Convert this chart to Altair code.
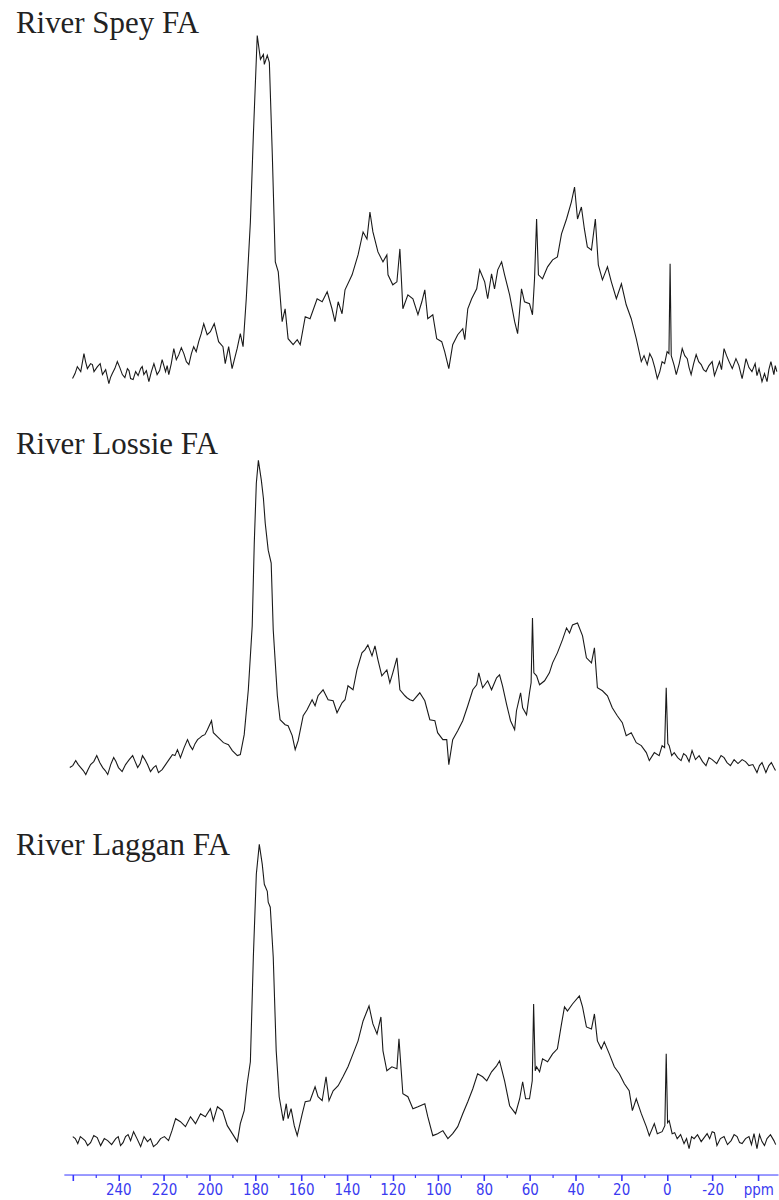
import altair as alt
import pandas as pd

# ---- data (ppm, relative intensity) ----
spey_ppm = [260.0, 257.9, 256.4, 255.0, 253.5, 252.1, 250.6, 249.1, 246.9, 245.5, 244.1, 242.6, 240.4, 238.2,
            236.0, 234.6, 232.4, 230.2, 228.8, 226.6, 224.4, 223.0, 220.8, 219.3, 217.9, 215.7, 213.5, 211.3,
            209.1, 207.0, 204.8, 202.6, 201.1, 199.7, 198.0, 196.1, 194.2, 193.2, 191.7, 190.2, 188.0, 186.6,
            185.4, 184.0, 182.2, 180.9, 179.2, 177.8, 176.5, 176.1, 174.8, 173.9, 172.6, 171.3, 170.0, 168.3,
            167.0, 165.7, 163.5, 161.7, 160.4, 158.2, 156.1, 153.0, 150.8, 148.6, 146.5, 145.2, 143.8, 142.1,
            140.8, 137.7, 135.1, 132.9, 131.2, 129.9, 128.6, 126.4, 124.2, 122.5, 122.0, 119.9, 118.1, 116.8,
            115.5, 113.3, 111.1, 108.9, 107.2, 105.9, 104.6, 102.4, 100.7, 98.5, 97.2, 95.4, 93.7, 91.5,
            89.3, 88.4, 87.1, 85.4, 83.2, 81.9, 79.7, 78.4, 76.7, 75.4, 74.0, 72.3, 71.0, 68.8,
            66.6, 65.3, 63.6, 62.3, 60.1, 58.8, 57.9, 57.0, 56.2, 54.4, 52.2, 50.0, 47.9, 46.1,
            43.9, 41.8, 40.4, 39.1, 37.4, 36.1, 34.8, 33.0, 31.3, 30.0, 28.2, 26.0, 24.3, 22.1,
            19.9, 17.8, 15.6, 13.4, 11.2, 8.6, 6.4, 4.2, 2.1, -0.1, -0.9, -1.4, -1.9, -2.3,
            -4.1, -6.7, -8.9, -10.6, -12.8, -15.0, -17.1, -19.8, -21.9, -25.0, -27.2, -30.2, -32.9, -34.6,
            -37.2, -40.3, -41.6, -43.8, -45.5, -46.8, -48.1]
spey_val = [-5, 7, 2, 20, 5, 10, 2, 7, -1, 4, -10, 0, 12, -1,
            5, -5, 2, 5, -1, -8, 10, -1, 14, 2, -1, 25, 19, 20,
            9, 27, 32, 50, 39, 42, 50, 32, 27, 10, 27, 5, 25, 40,
            27, 75, 152, 239, 339, 315, 320, 310, 319, 312, 219, 112, 102, 52,
            65, 35, 29, 34, 29, 57, 55, 75, 72, 82, 65, 52, 72, 60,
            84, 99, 119, 142, 135, 162, 142, 122, 112, 119, 99, 89, 92, 125,
            65, 79, 75, 59, 72, 84, 55, 59, 35, 32, 22, 5, 29, 39,
            45, 34, 65, 75, 85, 104, 92, 75, 100, 85, 104, 112, 99, 79,
            52, 40, 85, 72, 70, 59, 95, 155, 99, 95, 107, 114, 117, 140,
            155, 172, 187, 155, 167, 145, 127, 124, 155, 109, 94, 107, 92, 75,
            90, 69, 55, 35, 12, 9, 15, -5, 12, 22, 20, 110, 18, 15,
            -1, 25, 15, -1, 19, 9, 2, 12, 5, 25, 12, 15, -5, 15,
            2, 5, -8, -8, 12, -1, 2]
# finer noise detail of the Spey baseline
spey_detail_ppm = [258.9, 254.3, 251.3, 247.9, 243.4, 241.5, 239.3, 237.1, 235.3, 233.5, 231.3, 229.5, 227.7,
                   225.5, 221.9, 218.6, 216.8, 214.6, 212.4, 210.2, 208.0, 205.9, 203.7,
                   10.0, 7.5, 5.3, 3.1, 1.0,
                   -3.2, -5.4, -7.8, -9.7, -11.7, -13.9, -16.0, -18.4, -20.8, -23.0, -23.9, -26.1, -28.6,
                   -31.5, -33.7, -35.9, -38.6, -39.4, -42.7, -44.6, -47.4]
spey_detail_val = [0, 12, 9, 10, -4, 5, 6, -4, 3, -6, -2, 7, 3,
                   2, 3, 8, 10, 14, 26, 12, 20, 22, 40,
                   18, 20, 6, 2, 10,
                   8, 10, 18, 6, 10, 12, 4, 8, -2, 12, 4, 18, 5,
                   8, 4, 6, 10, -2, 0, 4, 8]

lossie_ppm = [261.2, 258.6, 256.4, 254.2, 252.1, 249.4, 246.8, 244.6, 242.0, 239.9, 236.8, 233.7, 231.5, 229.4,
              227.2, 224.6, 222.4, 219.3, 216.3, 214.1, 212.8, 209.7, 207.5, 205.3, 203.2, 201.0, 199.2, 198.4,
              196.2, 194.0, 191.8, 190.1, 187.9, 186.6, 184.9, 183.1, 181.4, 180.5, 179.6, 178.7, 177.4, 176.5,
              175.7, 174.4, 173.1, 172.2, 170.4, 169.2, 167.0, 165.7, 163.9, 162.6, 161.3, 159.1, 157.4, 155.2,
              153.9, 152.6, 150.4, 148.2, 146.0, 144.3, 142.1, 140.8, 139.5, 137.3, 135.6, 133.4, 132.1, 130.8,
              129.0, 127.7, 126.4, 124.7, 122.5, 121.2, 119.9, 118.1, 116.8, 114.6, 113.7, 112.4, 111.1, 108.1,
              105.9, 103.7, 101.5, 100.3, 98.0, 96.3, 95.4, 93.7, 91.5, 89.3, 87.1, 84.9, 83.2, 82.3,
              80.6, 78.4, 76.7, 74.5, 73.2, 71.9, 70.1, 68.4, 66.6, 65.8, 64.0, 63.1, 61.4, 60.1,
              59.4, 58.8, 58.2, 57.0, 55.7, 53.5, 51.4, 50.0, 47.9, 45.7, 43.9, 42.6, 41.3, 39.1,
              36.9, 35.2, 33.0, 31.7, 30.4, 28.2, 26.0, 23.9, 21.7, 19.5, 17.8, 15.6, 13.4, 11.2,
              9.0, 7.7, 5.5, 3.4, 2.1, 1.0, 0.3, -0.4, -1.0, -3.2, -6.2, -8.4, -11.0, -14.1,
              -17.1, -19.8, -23.7, -26.3, -29.4, -32.9, -35.9, -39.4, -41.6, -43.3, -44.6, -46.8]
lossie_val = [0, 7, 0, -7, 3, 12, 0, -7, 10, 0, 3, 12, 0, 12,
              3, 0, -5, 3, 13, 18, 10, 28, 18, 28, 32, 38, 47, 35,
              30, 25, 23, 17, 12, 13, 33, 78, 142, 225, 285, 308, 288, 270,
              245, 218, 205, 138, 72, 48, 43, 42, 32, 18, 27, 52, 58, 68,
              62, 72, 78, 68, 67, 55, 65, 68, 82, 78, 98, 115, 118, 123,
              112, 122, 108, 92, 98, 85, 95, 110, 78, 72, 70, 68, 67, 75,
              67, 48, 47, 35, 28, 28, 3, 28, 37, 47, 62, 78, 83, 95,
              80, 87, 78, 90, 93, 82, 63, 47, 38, 57, 75, 60, 53, 75,
              85, 150, 95, 92, 83, 87, 95, 105, 115, 128, 140, 135, 143, 145,
              132, 110, 105, 120, 80, 77, 72, 60, 52, 45, 32, 35, 25, 22,
              15, 7, 15, 12, 22, 20, 80, 24, 22, 15, 7, 12, 17, 12,
              2, 8, 12, 5, 8, 8, 2, -5, 5, -5, 2, 0]
lossie_detail_ppm = [259.9, 257.5, 255.3, 253.2, 250.7, 248.1, 245.7, 243.3, 241.0, 238.3, 235.2, 232.6, 230.4,
                     228.3, 225.9, 223.5, 220.8, 217.8, 215.2, 211.2, 208.6, 206.4, 204.2, 202.1,
                     -2.1, -4.7, -7.3, -9.7, -12.5, -15.6, -18.4, -21.8, -25.0, -27.8, -31.1, -34.4, -37.6,
                     -40.5, -45.7, -47.5]
lossie_detail_val = [2, 3, -3, -2, 6, 5, -3, 3, 6, -4, 8, 6, 4,
                     8, -4, 2, -2, 8, 12, 20, 22, 24, 30, 33,
                     12, 10, 14, 6, 8, 6, 10, 4, 10, 2, 4, 6, 3,
                     2, 5, -3]

laggan_ppm = [259.9, 257.7, 255.5, 253.4, 250.7, 247.7, 244.6, 241.1, 239.0, 236.8, 234.6, 233.3, 230.2, 227.2,
              224.6, 221.5, 218.0, 214.9, 212.8, 210.6, 208.4, 206.2, 204.0, 201.9, 199.7, 198.4, 196.6, 194.4,
              192.3, 190.1, 187.9, 186.6, 184.9, 183.6, 182.2, 180.9, 179.6, 178.3, 177.0, 176.1, 174.8, 174.4,
              173.5, 172.2, 170.9, 169.6, 167.8, 166.5, 165.7, 164.4, 163.0, 161.7, 159.5, 158.2, 156.1, 153.9,
              152.6, 150.8, 149.1, 147.8, 146.0, 143.8, 141.7, 139.5, 137.3, 135.1, 132.9, 130.3, 128.6, 126.8,
              125.1, 124.2, 122.5, 120.3, 118.1, 117.2, 115.5, 113.3, 111.1, 108.9, 105.9, 104.6, 102.4, 100.3,
              98.0, 95.8, 93.7, 91.5, 89.3, 87.1, 84.9, 82.8, 80.6, 78.8, 76.7, 74.5, 73.2, 71.0,
              68.8, 66.2, 64.4, 63.1, 61.8, 60.1, 58.9, 58.3, 57.6, 57.0, 55.7, 54.4, 52.2, 50.0,
              47.9, 46.1, 44.8, 43.5, 41.3, 38.3, 36.9, 35.2, 33.0, 31.7, 30.4, 28.7, 27.4, 25.2,
              23.0, 20.8, 18.6, 16.5, 15.1, 13.4, 11.2, 9.0, 7.7, 5.5, 4.2, 2.1, 0.9, 0.3,
              -0.3, -1.0, -2.3, -4.5, -7.5, -9.7, -11.9, -15.0, -17.6, -19.8, -21.9, -25.0, -28.1, -30.7,
              -32.9, -35.9, -38.1, -39.4, -41.6, -43.8, -46.8]
laggan_val = [4, -3, 2, -5, 5, -5, 0, 2, -5, 4, 0, 9, -6, -1,
              -6, 2, 0, 22, 19, 14, 24, 17, 27, 24, 32, 20, 34, 30,
              15, 7, -1, 17, 30, 57, 79, 184, 267, 297, 277, 257, 250, 239,
              234, 184, 90, 44, 20, 37, 22, 32, 15, 5, 27, 39, 40, 54,
              44, 40, 64, 40, 50, 55, 64, 74, 87, 100, 120, 135, 117, 107,
              124, 90, 70, 74, 72, 102, 47, 44, 32, 34, 37, 24, 5, 7,
              10, 2, 7, 14, 27, 39, 52, 67, 64, 60, 69, 75, 80, 60,
              35, 27, 42, 59, 42, 42, 60, 137, 70, 74, 69, 82, 79, 87,
              92, 117, 134, 130, 137, 145, 134, 114, 112, 127, 100, 92, 99, 87,
              74, 67, 57, 50, 30, 42, 27, 14, 5, 17, 7, 9, 15, 87,
              18, 20, 7, 2, -3, -8, 2, -1, 7, 9, -5, 4, 0, 4,
              -3, 4, 7, -8, -1, 2, 0]
laggan_detail_ppm = [258.8, 256.6, 254.5, 252.1, 249.2, 246.1, 242.9, 240.0, 237.9, 235.7, 231.8, 228.7, 225.9,
                     223.0, 219.8, 216.5,
                     -3.4, -6.0, -8.6, -10.8, -13.4, -16.3, -18.7, -20.8, -23.4, -26.5, -29.4, -31.8, -34.4,
                     -37.0, -40.5, -42.7, -45.3, -47.6]
laggan_detail_val = [2, 4, 0, -2, 3, 2, -4, 4, -2, 6, 2, 4, 2,
                     -3, 4, 10,
                     8, 6, 2, 4, 6, 3, 2, 8, 2, -4, 6, -2, 2,
                     -4, 6, -5, 6, -4]

titles = ["River Spey FA", "River Lossie FA", "River Laggan FA"]
axis_ticks = list(range(-40, 261, 10))

# ---- layout ----
X_DOMAIN = [-48.6, 263.8]
PLOT_W = 716
panels = [
    (titles[0], spey_ppm + spey_detail_ppm, spey_val + spey_detail_val, [-28, 372], 400, -62),
    (titles[1], lossie_ppm + lossie_detail_ppm, lossie_val + lossie_detail_val, [-35, 365], 400, -82),
    (titles[2], laggan_ppm + laggan_detail_ppm, laggan_val + laggan_detail_val, [-34, 337], 371, -82),
]

charts = []
for i, (title, ppm, val, ydom, h, toff) in enumerate(panels):
    df = pd.DataFrame({"ppm": ppm, "intensity": val}).sort_values("ppm")
    last = i == len(panels) - 1
    if last:
        xaxis = alt.Axis(
            values=axis_ticks,
            title=None,
            grid=False,
            domainColor="#3535ff",
            domainWidth=1,
            tickColor="#3535ff",
            tickSize={"condition": {"test": "datum.value % 20 === 0", "value": 6}, "value": 3},
            tickWidth={"condition": {"test": "datum.value % 20 === 0", "value": 1.6}, "value": 1.2},
            labelExpr="datum.value == -40 ? 'ppm' : ((datum.value % 20 == 0 && datum.value != 260) ? '' + datum.value : '')",
            labelColor="#3a3af0",
            labelFont="DejaVu Sans Condensed, DejaVu Sans, sans-serif",
            labelFontSize=15,
            labelPadding=2,
            labelOverlap=False,
            labelFlush=False,
        )
    else:
        xaxis = None
    x_enc = alt.X("ppm:Q", scale=alt.Scale(domain=X_DOMAIN, reverse=True, nice=False, zero=False))
    x_enc = x_enc.axis(xaxis)
    c = (
        alt.Chart(df)
        .mark_line(color="#1a1a1a", strokeWidth=1.1, clip=True)
        .encode(
            x=x_enc,
            y=alt.Y("intensity:Q", scale=alt.Scale(domain=ydom, nice=False, zero=False), axis=None),
        )
        .properties(
            width=PLOT_W,
            height=h,
            title=alt.TitleParams(
                text=title,
                anchor="start",
                frame="group",
                orient="top",
                offset=toff,
                dx=-48,
                baseline="alphabetic",
                font="Liberation Serif",
                fontSize=31,
                fontWeight="normal",
                color="#222222",
            ),
        )
    )
    charts.append(c)

chart = (
    alt.vconcat(*charts, spacing=0)
    .properties(padding={"left": 15, "top": 0, "right": 0, "bottom": 5}, background="white")
    .configure_view(stroke="transparent")
)

chart.save("out.html", embed_options={"renderer": "svg", "actions": False})
